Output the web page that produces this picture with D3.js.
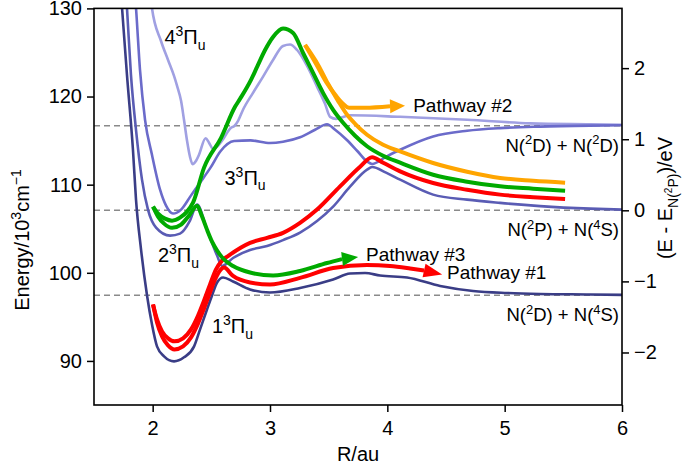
<!DOCTYPE html>
<html>
<head>
<meta charset="utf-8">
<script src="https://cdn.jsdelivr.net/npm/d3@7"></script>
<style>
body { margin: 0; background: #fff; }
svg text { font-family: "Liberation Sans", Arial, Helvetica, sans-serif; fill: #000; }
</style>
</head>
<body>
<svg id="chart" width="683" height="465"></svg>
<script>
// potential curves: [R in au, E in 10^3 cm^-1]
var state1 = [[1.731,131.5],[1.739,130.05],[1.781,122.46],[1.832,113.96],[1.858,108.3],[1.901,102.64],[1.952,97.43],[1.994,94.15],[2.037,91.65],[2.097,90.52],[2.182,89.95],[2.267,90.41],[2.353,91.65],[2.404,93.58],[2.463,95.84],[2.506,97.43],[2.549,98.9],[2.6,99.47],[2.685,99.02],[2.83,98.11],[3.0,97.77],[3.256,98.28],[3.538,99.24],[3.682,99.92],[3.81,99.98],[3.938,99.69],[4.168,99.47],[4.45,98.51],[4.731,97.94],[5.021,97.71],[5.302,97.6],[5.728,97.54],[6.0,97.49]];
var state2 = [[1.774,131.5],[1.781,130.05],[1.815,122.46],[1.858,116.23],[1.909,110.57],[1.96,107.17],[2.029,105.13],[2.148,104.22],[2.233,104.45],[2.318,105.92],[2.378,107.74],[2.463,104.9],[2.549,101.96],[2.591,100.77],[2.685,101.68],[2.83,102.58],[2.975,103.04],[3.111,103.71],[3.256,104.56],[3.401,105.87],[3.538,107.51],[3.682,109.77],[3.827,111.7],[3.87,112.0],[3.989,111.36],[4.109,110.57],[4.39,108.87],[4.68,108.3],[4.961,107.93],[5.302,107.57],[5.728,107.28],[6.0,107.17]];
var state3 = [[1.85,131.5],[1.858,130.05],[1.892,123.02],[1.935,117.36],[1.994,113.4],[2.063,109.43],[2.114,107.62],[2.173,106.72],[2.242,107.17],[2.323,108.7],[2.404,110.23],[2.493,111.93],[2.578,113.79],[2.694,114.95],[2.834,115.02],[3.0,114.72],[3.111,114.87],[3.256,115.38],[3.384,116.23],[3.486,116.85],[3.555,116.23],[3.653,115.1],[3.742,113.85],[3.827,112.64],[3.87,112.35],[3.989,113.17],[4.109,113.96],[4.39,115.47],[4.68,116.12],[4.961,116.42],[5.302,116.59],[5.728,116.7],[6.0,116.74]];
var state4 = [[1.985,131.5],[1.994,130.05],[2.071,126.3],[2.131,124.15],[2.182,122.34],[2.208,121.21],[2.242,119.51],[2.267,117.36],[2.293,114.98],[2.318,113.17],[2.34,112.32],[2.37,112.72],[2.395,113.4],[2.451,115.27],[2.48,114.76],[2.514,114.08],[2.557,114.42],[2.591,114.98],[2.668,116.46],[2.694,116.63],[2.728,117.25],[2.77,118.5],[2.855,120.42],[2.941,122.26],[3.026,124.15],[3.111,125.74],[3.171,125.91],[3.231,125.28],[3.316,123.48],[3.401,121.13],[3.469,119.17],[3.512,117.7],[3.563,117.47],[3.682,117.87],[4.109,117.7],[4.68,117.36],[5.217,116.96],[5.728,116.85],[6.0,116.8]];

// pathways (last point of an arrow route is the arrow tip)
var path1 = [[2.003,96.41],[2.037,94.37],[2.08,92.79],[2.131,91.77],[2.186,91.31],[2.259,91.65],[2.327,92.67],[2.387,94.26],[2.438,95.96],[2.489,97.77],[2.532,99.24],[2.574,100.26],[2.608,100.6],[2.685,99.64],[2.83,98.9],[3.0,98.68],[3.256,99.43],[3.538,100.54],[3.827,100.88],[4.023,100.77],[4.194,100.49],[4.313,100.26],[4.467,99.81]];
var path1b = [[2.003,96.41],[2.037,94.71],[2.08,93.35],[2.131,92.56],[2.186,92.22],[2.259,92.56],[2.327,93.58],[2.387,95.16],[2.438,96.86],[2.489,98.68],[2.54,100.38],[2.591,101.39],[2.642,101.9],[2.83,103.4],[2.975,103.96],[3.111,104.53],[3.256,105.66],[3.401,107.17],[3.597,109.81],[3.768,112.04],[3.87,113.11],[3.964,112.49],[4.109,111.51],[4.39,110.19],[4.68,109.43],[4.961,108.87],[5.243,108.58],[5.515,108.36]];
var path2 = [[3.299,125.85],[3.393,123.7],[3.478,121.66],[3.563,120.08],[3.623,119.17],[3.674,118.72],[3.81,118.72],[4.023,118.89],[4.151,118.95]];
var path2b = [[3.299,125.85],[3.41,123.59],[3.495,121.44],[3.58,119.51],[3.657,117.93],[3.725,116.91],[3.827,115.67],[3.964,114.53],[4.109,113.77],[4.39,112.46],[4.68,111.47],[4.961,110.76],[5.243,110.45],[5.515,110.23]];
var path3 = [[2.003,107.51],[2.046,106.38],[2.097,105.58],[2.165,105.1],[2.242,105.47],[2.31,106.49],[2.378,107.62],[2.421,106.38],[2.463,104.9],[2.506,103.54],[2.549,102.53],[2.6,101.62],[2.685,100.77],[2.83,100.03],[3.026,99.69],[3.256,100.2],[3.486,101.11],[3.614,101.56],[3.751,101.79]];
var path3b = [[2.003,107.51],[2.046,106.72],[2.105,106.15],[2.165,105.92],[2.233,106.26],[2.293,106.94],[2.344,107.96],[2.438,111.93],[2.583,115.32],[2.702,118.83],[2.745,119.74],[2.838,121.89],[2.89,123.36],[2.958,125.28],[3.026,126.76],[3.111,127.72],[3.197,127.21],[3.282,124.94],[3.367,122.68],[3.452,120.42],[3.538,118.49],[3.623,117.02],[3.725,115.55],[3.827,114.36],[3.964,113.28],[4.109,112.49],[4.39,111.13],[4.68,110.34],[4.961,109.81],[5.243,109.55],[5.515,109.32]];

// dissociation limits
var limits = [97.46, 107.09, 116.69];
var limitLabels = [["2D","4S"], ["2P","4S"], ["2D","2D"]];

var xTicks = [2, 3, 4, 5, 6];
var yTicks = [90, 100, 110, 120, 130];
var evTicks = [-2, -1, 0, 1, 2];
var evToCm = 8.06554; // 1 eV in 10^3 cm^-1

var stateNames = ["1", "2", "3", "4"];
var stateLabelR = [2.505, 2.045, 2.612, 2.1];
var stateLabelE = [93.13, 101.17, 109.99, 125.97];

var pathNames = ["Pathway #1", "Pathway #2", "Pathway #3"];
var pathLabelR = [4.509, 4.22, 3.819];
var pathLabelE = [99.24, 118.27, 101.34];

var svg = d3.select("#chart");
var pLeft = 94, pRight = 622, pTop = 8.4, pBottom = 405;

var x = d3.scaleLinear().domain([1.5, 6]).range([pLeft, pRight]);
var y = d3.scaleLinear().domain([85, 130]).range([pBottom, pTop]);
var yEv = d3.scaleLinear()
    .domain([(85 - limits[1]) / evToCm, (130 - limits[1]) / evToCm])
    .range([pBottom, pTop]);

//text with super/subscripts
function rich(sel, parts, size) {
    var shift = 0;
    parts.forEach(function(p) {
        var kind = p[1] || "";
        var s = 0, fs = size;
        if (kind == "sup") { s = -0.4 * size; fs = 0.7 * size; }
        if (kind == "sub") { s = 0.28 * size; fs = 0.7 * size; }
        if (kind == "subsup") { s = 0.02 * size; fs = 0.5 * size; }
        sel.append("tspan").attr("dy", s - shift).attr("font-size", fs).text(p[0]);
        shift = s;
    });
    return sel;
}

svg.append("clipPath").attr("id", "plot")
  .append("rect").attr("x", pLeft).attr("y", pTop).attr("width", pRight - pLeft).attr("height", pBottom - pTop);

var plot = svg.append("g").attr("clip-path", "url(#plot)");

// dashed asymptotes
plot.selectAll(".limit").data(limits).enter().append("line")
    .attr("x1", pLeft).attr("x2", pRight)
    .attr("y1", function(d){ return y(d) }).attr("y2", function(d){ return y(d) })
    .attr("stroke", "#8a8a8a").attr("stroke-width", 1.4).attr("stroke-dasharray", "6,4");

var line = d3.line().x(function(d){ return x(d[0]) }).y(function(d){ return y(d[1]) }).curve(d3.curveMonotoneX);

var states = [state4, state3, state2, state1];
var stateColors = ["#a0a0e2", "#6b6bca", "#5a5cb4", "#3a3d86"];
plot.selectAll(".state").data(states).enter().append("path")
    .attr("d", line)
    .attr("fill", "none")
    .attr("stroke", function(d, i){ return stateColors[i] })
    .attr("stroke-width", 2.6)
    .attr("stroke-linejoin", "round");

// pathways: plain routes then arrow routes
var plain = [[path1b, "#ff0000"], [path3b, "#00aa00"], [path2b, "#ffa500"]];
plot.selectAll(".route").data(plain).enter().append("path")
    .attr("d", function(d){ return line(d[0]) })
    .attr("fill", "none").attr("stroke", function(d){ return d[1] })
    .attr("stroke-width", 4).attr("stroke-linejoin", "round");

var arrows = [[path1, "#ff0000"], [path3, "#00aa00"], [path2, "#ffa500"]];
arrows.forEach(function(a) {
    var pts = a[0];
    plot.append("path")
        .attr("d", line(pts.slice(0, pts.length - 1)))
        .attr("fill", "none").attr("stroke", a[1])
        .attr("stroke-width", 4).attr("stroke-linejoin", "round");
    var tip = pts[pts.length - 1], base = pts[pts.length - 2];
    var tx = x(tip[0]), ty = y(tip[1]), bx = x(base[0]), by = y(base[1]);
    var L = Math.hypot(tx - bx, ty - by);
    var nx = -(ty - by) / L * 7, ny = (tx - bx) / L * 7;
    plot.append("polygon")
        .attr("points", [[bx + nx, by + ny], [tx, ty], [bx - nx, by - ny]].join(" "))
        .attr("fill", a[1]);
});

// frame
svg.append("rect").attr("x", pLeft).attr("y", pTop).attr("width", pRight - pLeft).attr("height", pBottom - pTop)
    .attr("fill", "none").attr("stroke", "#000").attr("stroke-width", 1.6);

// axes
var xAxis = svg.append("g").attr("transform", "translate(0," + pBottom + ")")
    .call(d3.axisBottom(x).tickValues(xTicks).tickSize(7).tickPadding(9).tickFormat(d3.format("d")));
var yAxis = svg.append("g").attr("transform", "translate(" + pLeft + ",0)")
    .call(d3.axisLeft(y).tickValues(yTicks).tickSize(7).tickPadding(5).tickFormat(d3.format("d")));
var evAxis = svg.append("g").attr("transform", "translate(" + pRight + ",0)")
    .call(d3.axisRight(yEv).tickValues(evTicks).tickSize(7).tickPadding(5).tickFormat(d3.format("d")));

[xAxis, yAxis, evAxis].forEach(function(g) {
    g.select(".domain").remove();
    g.selectAll(".tick line").attr("stroke", "#000").attr("stroke-width", 1.5);
    g.selectAll(".tick text").attr("font-size", 20).attr("font-family", null);
});

// axis titles
svg.append("text").attr("x", (pLeft + pRight) / 2).attr("y", 461)
    .attr("text-anchor", "middle").attr("font-size", 20).text("R/au");

rich(svg.append("text").attr("text-anchor", "middle").attr("font-size", 20)
    .attr("transform", "translate(29,240) rotate(-90)"),
    [["Energy/10"], ["3", "sup"], ["cm"], ["\u22121", "sup"]], 20);

rich(svg.append("text").attr("text-anchor", "middle").attr("font-size", 20)
    .attr("transform", "translate(672,198) rotate(-90)"),
    [["(E - E"], ["N(", "sub"], ["2", "subsup"], ["P)", "sub"], [")/eV"]], 20);

// state labels
stateNames.forEach(function(n, i) {
    rich(svg.append("text").attr("x", x(stateLabelR[i])).attr("y", y(stateLabelE[i])).attr("font-size", 20),
        [[n], ["3", "sup"], ["\u03a0"], ["u", "sub"]], 20);
});

// limit labels
limits.forEach(function(e, i) {
    var l = limitLabels[i];
    rich(svg.append("text").attr("x", pRight - 3).attr("y", y(e) + 26)
        .attr("text-anchor", "end").attr("font-size", 18.5),
        [["N("], [l[0][0], "sup"], [l[0][1] + ") + N("], [l[1][0], "sup"], [l[1][1] + ")"]], 18.5);
});

// pathway labels
pathNames.forEach(function(n, i) {
    svg.append("text").attr("x", x(pathLabelR[i])).attr("y", y(pathLabelE[i]))
        .attr("font-size", 19).text(n);
});
</script>
</body>
</html>
